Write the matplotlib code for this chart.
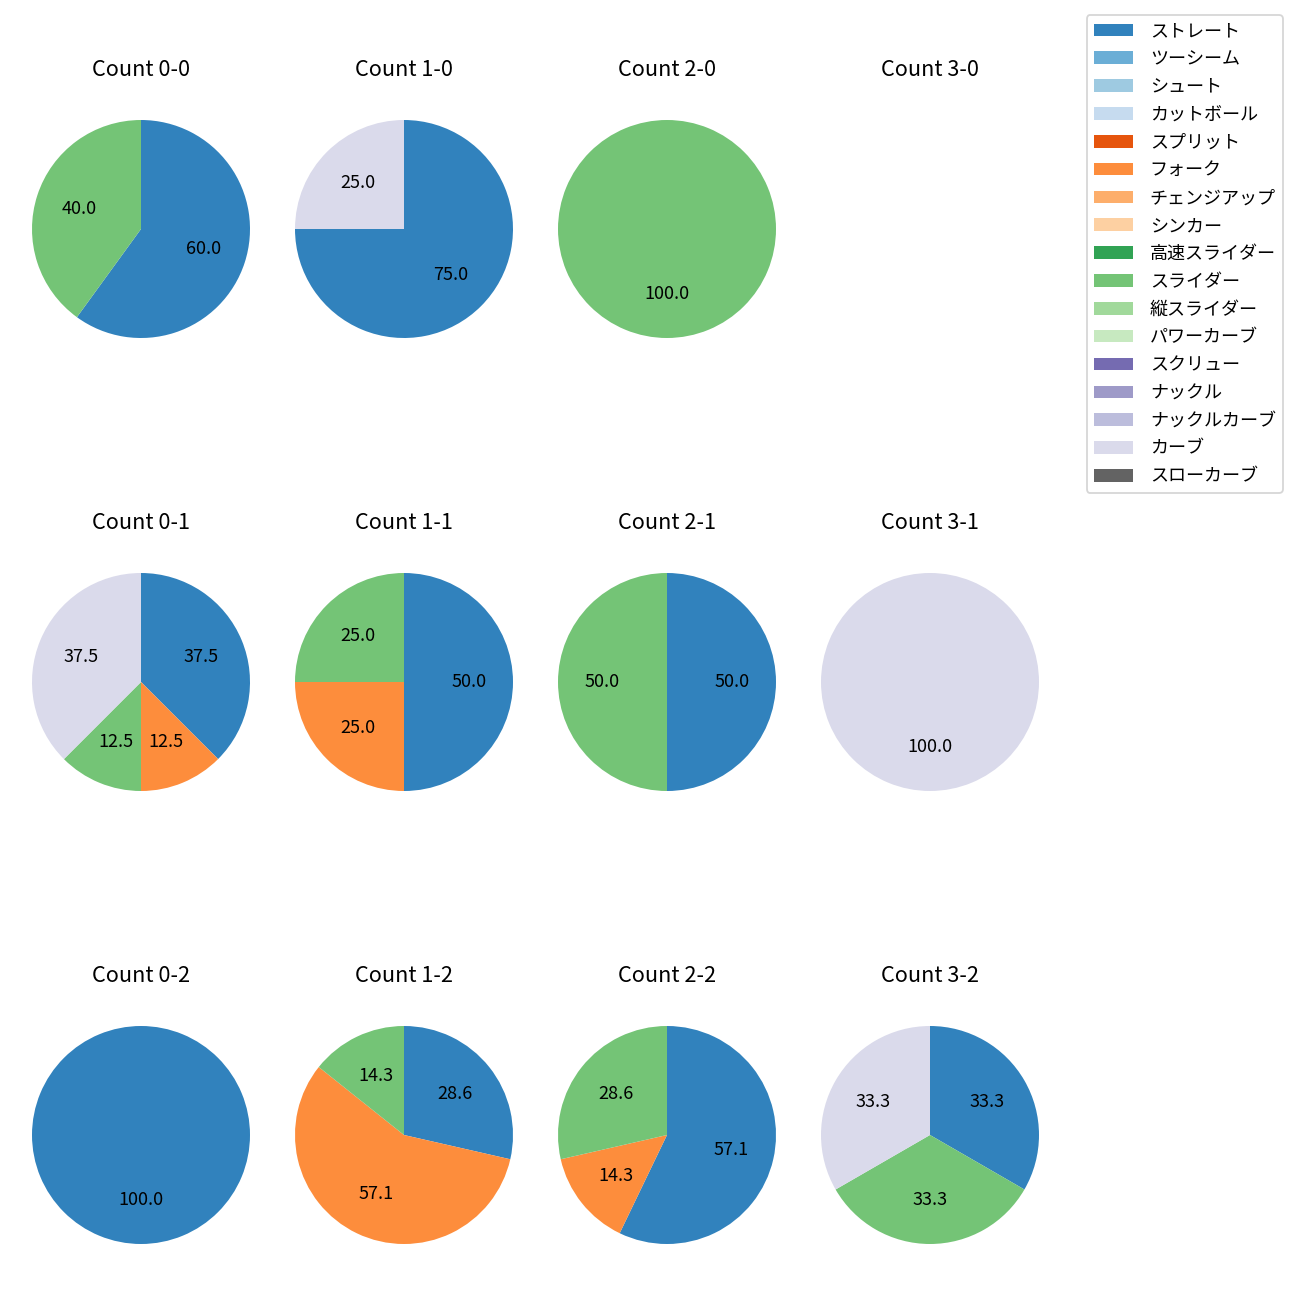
import matplotlib
matplotlib.use('Agg')
import matplotlib.pyplot as plt
from matplotlib.patches import Patch

plt.rcParams['font.family'] = ['Noto Sans CJK JP', 'DejaVu Sans']

# 球種（凡例の順）
pitch_types = ['ストレート', 'ツーシーム', 'シュート', 'カットボール', 'スプリット', 'フォーク',
               'チェンジアップ', 'シンカー', '高速スライダー', 'スライダー', '縦スライダー',
               'パワーカーブ', 'スクリュー', 'ナックル', 'ナックルカーブ', 'カーブ', 'スローカーブ']

# カウント別の投球数
count_0_0 = {'ストレート': 3, 'スライダー': 2}
count_1_0 = {'ストレート': 3, 'カーブ': 1}
count_2_0 = {'スライダー': 1}
count_3_0 = {}
count_0_1 = {'ストレート': 3, 'フォーク': 1, 'スライダー': 1, 'カーブ': 3}
count_1_1 = {'ストレート': 2, 'フォーク': 1, 'スライダー': 1}
count_2_1 = {'ストレート': 1, 'スライダー': 1}
count_3_1 = {'カーブ': 1}
count_0_2 = {'ストレート': 1}
count_1_2 = {'ストレート': 2, 'フォーク': 4, 'スライダー': 1}
count_2_2 = {'ストレート': 4, 'フォーク': 1, 'スライダー': 2}
count_3_2 = {'ストレート': 1, 'スライダー': 1, 'カーブ': 1}

grid = [
    [('Count 0-0', count_0_0), ('Count 1-0', count_1_0), ('Count 2-0', count_2_0), ('Count 3-0', count_3_0)],
    [('Count 0-1', count_0_1), ('Count 1-1', count_1_1), ('Count 2-1', count_2_1), ('Count 3-1', count_3_1)],
    [('Count 0-2', count_0_2), ('Count 1-2', count_1_2), ('Count 2-2', count_2_2), ('Count 3-2', count_3_2)],
]

cmap = plt.get_cmap('tab20c')
colors = {p: cmap(i) for i, p in enumerate(pitch_types)}

fig = plt.figure(figsize=(10, 10), dpi=130)
W = H = 1300.0
side = 272.5
cx = [141, 404, 667, 930]
cy = [229, 682, 1135]

for r, row in enumerate(grid):
    for c, (title, data) in enumerate(row):
        ax = fig.add_axes([(cx[c] - side / 2) / W, 1 - (cy[r] + side / 2) / H, side / W, side / H])
        ax.set_title(title, fontsize=12, pad=9.3)
        if not data:
            ax.axis('off')
            continue
        labels = [p for p in pitch_types if p in data]
        vals = [data[p] for p in labels]
        ax.pie(vals, colors=[colors[p] for p in labels], autopct='%.1f',
               startangle=90, counterclock=False, textprops={'fontsize': 10})

handles = [Patch(facecolor=colors[p], label=p) for p in pitch_types]
fig.legend(handles=handles, loc='upper right', bbox_to_anchor=(1283 / W, 1 - 15 / H),
           borderaxespad=0, fontsize=10, labelspacing=0.545,
           handlelength=2.15, handletextpad=0.95)

fig.savefig('out.png', dpi=130)
